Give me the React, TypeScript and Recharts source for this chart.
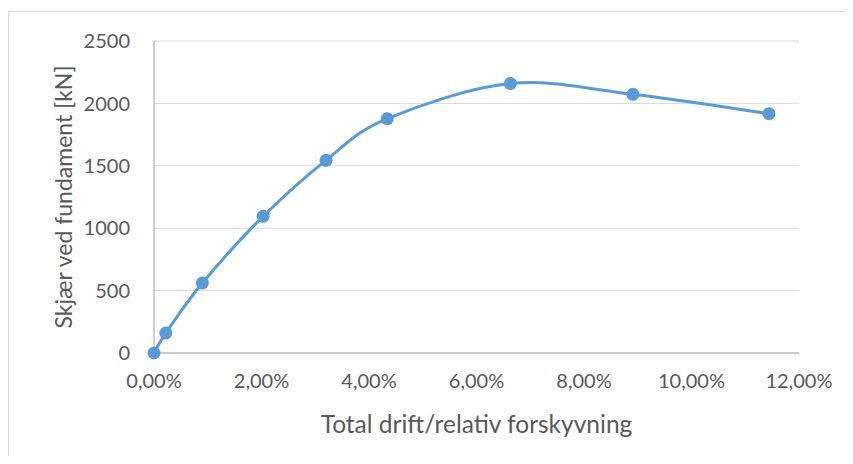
import React from 'react';
import {
  LineChart,
  Line,
  XAxis,
  YAxis,
  CartesianGrid,
  Label,
} from 'recharts';

// drift as fraction, shear in kN
const drift = [0, 0.0022, 0.009, 0.0203, 0.032, 0.0434, 0.0663, 0.0891, 0.1144];
const shear = [0, 160, 561, 1095, 1544, 1878, 2159, 2073, 1918];

const xTicks = [0, 0.02, 0.04, 0.06, 0.08, 0.1, 0.12];
const yTicks = [0, 500, 1000, 1500, 2000, 2500];

const data = drift.map((d, i) => ({ drift: d, shear: shear[i] }));

const FONT = 'Lato, "Open Sans", sans-serif';
const TEXT = '#595959';
const BLUE = '#5b9bd5';

const formatPct = (v: number) => (v * 100).toFixed(2).replace('.', ',') + '%';

// Excel-like smoothed line (Catmull-Rom through every point)
const smoothCurve = (context: any) => {
  let pts: number[][] = [];
  return {
    areaStart() {},
    areaEnd() {},
    lineStart() {
      pts = [];
    },
    point(x: number, y: number) {
      pts.push([+x, +y]);
    },
    lineEnd() {
      if (!pts.length) return;
      context.moveTo(pts[0][0], pts[0][1]);
      for (let i = 0; i < pts.length - 1; i++) {
        const p0 = pts[i - 1] || pts[i];
        const p1 = pts[i];
        const p2 = pts[i + 1];
        const p3 = pts[i + 2] || p2;
        context.bezierCurveTo(
          p1[0] + (p2[0] - p0[0]) / 6,
          p1[1] + (p2[1] - p0[1]) / 6,
          p2[0] - (p3[0] - p1[0]) / 6,
          p2[1] - (p3[1] - p1[1]) / 6,
          p2[0],
          p2[1]
        );
      }
    },
  };
};

const App: React.FC = () => {
  return (
    <div style={{ paddingTop: 3 }}>
      <div
        style={{
          width: 843,
          height: 444,
          borderTop: '1px solid #d9d9d9',
          borderLeft: '1px solid #d9d9d9',
          background: '#fff',
        }}
      >
        <LineChart
          width={843}
          height={444}
          data={data}
          margin={{ top: 29, right: 53, left: 0, bottom: 13 }}
        >
          <CartesianGrid vertical={false} stroke="#d9d9d9" strokeWidth={1} />
          <XAxis
            dataKey="drift"
            type="number"
            domain={[0, 0.12]}
            ticks={xTicks}
            tickFormatter={formatPct}
            height={90}
            stroke="#bfbfbf"
            strokeWidth={1.5}
            tickLine={false}
            tickSize={0}
            tickMargin={21}
            tick={{ fill: TEXT, fontSize: 20, fontFamily: FONT }}
          >
            <Label
              value="Total drift/relativ forskyvning"
              position="insideBottom"
              offset={10}
              fill={TEXT}
              fontSize={24.5}
              fontFamily={FONT}
            />
          </XAxis>
          <YAxis
            type="number"
            domain={[0, 2500]}
            ticks={yTicks}
            width={145}
            stroke="#bfbfbf"
            strokeWidth={1.5}
            tickLine={false}
            tickSize={0}
            tickMargin={24}
            tick={{ fill: TEXT, fontSize: 20, fontFamily: FONT }}
          >
            <Label
              value="Skjær ved fundament [kN]"
              position="center"
              angle={-90}
              dx={-18}
              fill={TEXT}
              fontSize={23}
              fontFamily={FONT}
            />
          </YAxis>
          <Line
            dataKey="shear"
            type={smoothCurve as any}
            stroke={BLUE}
            strokeWidth={3}
            dot={{ r: 6.5, fill: BLUE, stroke: BLUE, strokeWidth: 0 }}
            activeDot={false}
            isAnimationActive={false}
          />
        </LineChart>
      </div>
    </div>
  );
};

export default App;
